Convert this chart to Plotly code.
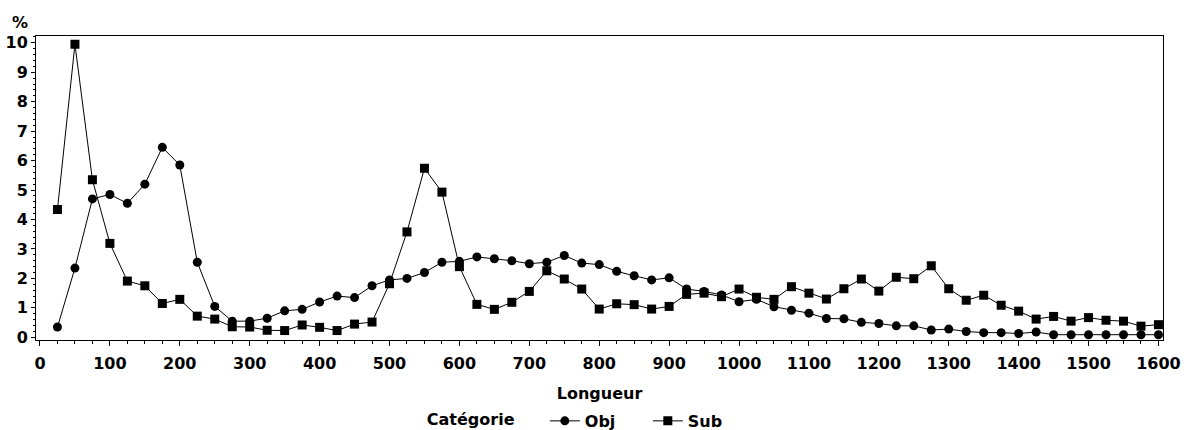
import plotly.graph_objects as go

longueur = [25, 50, 75, 100, 125, 150, 175, 200, 225, 250, 275, 300, 325, 350, 375, 400,
            425, 450, 475, 500, 525, 550, 575, 600, 625, 650, 675, 700, 725, 750, 775, 800,
            825, 850, 875, 900, 925, 950, 975, 1000, 1025, 1050, 1075, 1100, 1125, 1150, 1175, 1200,
            1225, 1250, 1275, 1300, 1325, 1350, 1375, 1400, 1425, 1450, 1475, 1500, 1525, 1550, 1575, 1600]

obj = [0.35, 2.35, 4.7, 4.85, 4.55, 5.2, 6.45, 5.85, 2.55, 1.05, 0.55, 0.55, 0.65, 0.9, 0.95, 1.2,
       1.4, 1.35, 1.75, 1.95, 2.0, 2.2, 2.55, 2.58, 2.73, 2.67, 2.6, 2.5, 2.55, 2.78, 2.52, 2.47,
       2.24, 2.09, 1.95, 2.02, 1.64, 1.56, 1.44, 1.21, 1.29, 1.04, 0.92, 0.82, 0.64, 0.63, 0.51, 0.47,
       0.39, 0.39, 0.25, 0.28, 0.2, 0.16, 0.16, 0.13, 0.18, 0.09, 0.09, 0.09, 0.09, 0.09, 0.09, 0.09]

sub = [4.34, 9.95, 5.35, 3.19, 1.91, 1.75, 1.15, 1.29, 0.72, 0.62, 0.36, 0.35, 0.24, 0.23, 0.42, 0.34,
       0.23, 0.45, 0.52, 1.82, 3.58, 5.74, 4.93, 2.4, 1.12, 0.95, 1.19, 1.56, 2.26, 1.98, 1.64, 0.96,
       1.14, 1.11, 0.96, 1.05, 1.46, 1.5, 1.38, 1.64, 1.36, 1.29, 1.72, 1.5, 1.3, 1.65, 1.98, 1.57,
       2.04, 1.99, 2.43, 1.65, 1.26, 1.43, 1.09, 0.89, 0.62, 0.71, 0.55, 0.67, 0.58, 0.55, 0.38, 0.43]

FONT = "DejaVu Sans"
FS = 16

fig = go.Figure()
fig.add_trace(go.Scatter(x=longueur, y=obj, name="Obj", mode="lines+markers",
                         line=dict(color="black", width=1),
                         marker=dict(symbol="circle", size=9, color="black")))
fig.add_trace(go.Scatter(x=longueur, y=sub, name="Sub", mode="lines+markers",
                         line=dict(color="black", width=1),
                         marker=dict(symbol="square", size=9, color="black")))

fig.update_layout(
    width=1189, height=430,
    margin=dict(l=36, r=26, t=36, b=90, autoexpand=False),
    paper_bgcolor="white", plot_bgcolor="white",
    font=dict(family=FONT, size=FS, color="black", weight="bold"),
    xaxis=dict(range=[-5.7, 1606.5], tickmode="linear", tick0=0, dtick=100,
               ticks="outside", ticklen=5, tickwidth=1, tickcolor="black",
               minor=dict(dtick=25, tick0=0, ticks="outside", ticklen=3, tickcolor="black", showgrid=False),
               showline=True, linecolor="black", linewidth=1, mirror=True,
               showgrid=False, zeroline=False,
               tickfont=dict(family=FONT, size=FS, weight="bold"),
               ticklabelstandoff=4,
               title=dict(text="Longueur", font=dict(family=FONT, size=FS, weight="bold"), standoff=15)),
    yaxis=dict(range=[-0.09, 10.23], tickmode="linear", tick0=0, dtick=1,
               ticks="outside", ticklen=4, tickwidth=1, tickcolor="black",
               minor=dict(dtick=0.2, tick0=0, ticks="outside", ticklen=2, tickcolor="black", showgrid=False),
               showline=True, linecolor="black", linewidth=1, mirror=True,
               showgrid=False, zeroline=False,
               tickfont=dict(family=FONT, size=FS, weight="bold")),
    legend=dict(orientation="h", x=0.345, xanchor="left",
                yref="container", y=0.021, yanchor="middle",
                title=dict(text="Catégorie    ", font=dict(family=FONT, size=FS, weight="bold")),
                font=dict(family=FONT, size=FS, weight="bold"),
                entrywidth=58, entrywidthmode="pixels"),
    showlegend=True,
)

fig.add_annotation(text="%", xref="paper", yref="paper", x=-0.0142, y=1.046,
                   xanchor="center", yanchor="middle", showarrow=False,
                   font=dict(family=FONT, size=FS, weight="bold"))

fig.write_html("out.html")
